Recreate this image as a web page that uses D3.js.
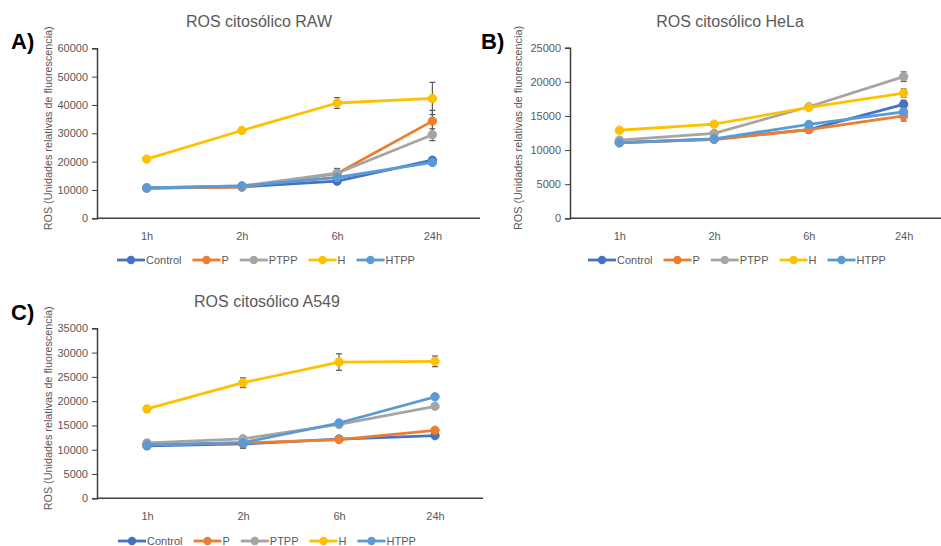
<!DOCTYPE html>
<html lang="es">
<head>
<meta charset="UTF-8">
<title>ROS citosólico</title>
<script src="https://d3js.org/d3.v7.min.js"></script>
<style>
  body { margin: 0; background: #fff; }
  svg { font-family: "Liberation Sans", Arial, sans-serif; }
  .tick-label { font-size: 11px; fill: #595959; }
  .title { font-size: 16px; fill: #595959; }
  .ytitle { font-size: 10.8px; fill: #595959; }
  .panel-label { font-size: 22px; font-weight: bold; fill: #000; }
  .legend-text { font-size: 11px; fill: #595959; }
</style>
</head>
<body>
<svg width="941" height="546"></svg>
<script>
  const categories = ["1h", "2h", "6h", "24h"];
  const seriesNames = ["Control", "P", "PTPP", "H", "HTPP"];
  const colors = ["#4472C4", "#ED7D31", "#A5A5A5", "#FFC000", "#5B9BD5"];

  // Panel A - RAW
  const rawControl = [10700, 11100, 13100, 20500];
  const rawP = [10700, 11000, 15800, 34300];
  const rawPTPP = [10700, 11400, 15900, 29500];
  const rawH = [20900, 31000, 40700, 42300];
  const rawHTPP = [10700, 11400, 14400, 19700];
  const rawErrControl = [300, 300, 500, 600];
  const rawErrP = [300, 300, 600, 3800];
  const rawErrPTPP = [300, 300, 1700, 2100];
  const rawErrH = [400, 400, 1900, 5700];
  const rawErrHTPP = [300, 300, 500, 500];

  // Panel B - HeLa
  const helaControl = [11100, 11600, 13000, 16700];
  const helaP = [11100, 11550, 13000, 15000];
  const helaPTPP = [11450, 12450, 16350, 20750];
  const helaH = [12900, 13800, 16250, 18350];
  const helaHTPP = [11050, 11650, 13750, 15600];
  const helaErrControl = [200, 200, 300, 600];
  const helaErrP = [200, 200, 300, 750];
  const helaErrPTPP = [200, 200, 300, 700];
  const helaErrH = [200, 200, 300, 600];
  const helaErrHTPP = [200, 200, 300, 300];

  // Panel C - A549
  const a549Control = [10800, 11200, 12200, 12900];
  const a549P = [11000, 11400, 12100, 14000];
  const a549PTPP = [11400, 12250, 15200, 18950];
  const a549H = [18400, 23800, 28050, 28200];
  const a549HTPP = [11000, 11450, 15500, 20900];
  const a549ErrControl = [300, 900, 300, 300];
  const a549ErrP = [300, 300, 300, 300];
  const a549ErrPTPP = [300, 300, 300, 300];
  const a549ErrH = [600, 1000, 1700, 1100];
  const a549ErrHTPP = [300, 300, 300, 300];

  const panels = [
    { label: "A)", title: "ROS citosólico RAW", max: 60000, step: 10000,
      values: [rawControl, rawP, rawPTPP, rawH, rawHTPP],
      errors: [rawErrControl, rawErrP, rawErrPTPP, rawErrH, rawErrHTPP],
      x0: 97, x1: 480, yTop: 48.3, yBot: 218.3, legendX: 117, legendY: 260,
      titleX: 259, titleY: 27, labelX: 11, labelY: 49, yTitleX: 52 },
    { label: "B)", title: "ROS citosólico HeLa", max: 25000, step: 5000,
      values: [helaControl, helaP, helaPTPP, helaH, helaHTPP],
      errors: [helaErrControl, helaErrP, helaErrPTPP, helaErrH, helaErrHTPP],
      x0: 570, x1: 951, yTop: 47.7, yBot: 218.3, legendX: 588, legendY: 260,
      titleX: 730, titleY: 27, labelX: 481, labelY: 49, yTitleX: 522 },
    { label: "C)", title: "ROS citosólico A549", max: 35000, step: 5000,
      values: [a549Control, a549P, a549PTPP, a549H, a549HTPP],
      errors: [a549ErrControl, a549ErrP, a549ErrPTPP, a549ErrH, a549ErrHTPP],
      x0: 97, x1: 483, yTop: 328.3, yBot: 498.3, legendX: 118, legendY: 541,
      titleX: 267, titleY: 307, labelX: 11, labelY: 320, yTitleX: 52 }
  ];

  const svg = d3.select("svg");

  panels.forEach(p => {
    const g = svg.append("g");
    const x = d3.scalePoint().domain(categories).range([p.x0 + 2, p.x1]).padding(0.5);
    const y = d3.scaleLinear().domain([0, p.max]).range([p.yBot, p.yTop]);

    // y axis
    const yAxis = d3.axisLeft(y).tickValues(d3.range(0, p.max + 1, p.step))
      .tickFormat(d3.format("d")).tickSize(5).tickPadding(4);
    const ya = g.append("g").attr("transform", `translate(${p.x0},0)`).call(yAxis);
    ya.select(".domain").attr("stroke", "#404040").attr("stroke-width", 1.5);
    ya.selectAll(".tick line").attr("stroke", "#404040");
    ya.selectAll(".tick text").attr("class", "tick-label").attr("font-size", null).attr("font-family", null);

    // x axis
    const xAxis = d3.axisBottom(x).tickSize(0).tickPadding(14);
    const xa = g.append("g").attr("transform", `translate(0,${p.yBot})`).call(xAxis);
    xa.select(".domain").attr("d", `M${p.x0},0H${p.x1}`).attr("stroke", "#404040").attr("stroke-width", 1.5);
    xa.selectAll(".tick text").attr("class", "tick-label").attr("font-size", null).attr("font-family", null);

    // titles
    g.append("text").attr("class", "title").attr("x", p.titleX).attr("y", p.titleY)
      .attr("text-anchor", "middle").text(p.title);
    g.append("text").attr("class", "panel-label").attr("x", p.labelX).attr("y", p.labelY).text(p.label);
    g.append("text").attr("class", "ytitle")
      .attr("transform", `translate(${p.yTitleX},${(p.yTop + p.yBot) / 2 - 5}) rotate(-90)`)
      .attr("text-anchor", "middle").text("ROS (Unidades relativas de fluorescencia)");

    const line = d3.line().x((d, i) => x(categories[i])).y(d => y(d));

    seriesNames.forEach((name, s) => {
      const vals = p.values[s];
      const errs = p.errors[s];
      const sg = g.append("g");
      sg.append("path").datum(vals).attr("d", line).attr("fill", "none")
        .attr("stroke", colors[s]).attr("stroke-width", 2.8).attr("stroke-linejoin", "round");
      // error bars
      const eb = sg.selectAll(".err").data(vals).enter().append("g");
      eb.append("line").attr("x1", (d, i) => x(categories[i])).attr("x2", (d, i) => x(categories[i]))
        .attr("y1", (d, i) => y(d + errs[i])).attr("y2", (d, i) => y(d - errs[i]))
        .attr("stroke", "#595959").attr("stroke-width", 1.2);
      [1, -1].forEach(sign => {
        eb.append("line").attr("x1", (d, i) => x(categories[i]) - 3).attr("x2", (d, i) => x(categories[i]) + 3)
          .attr("y1", (d, i) => y(d + sign * errs[i])).attr("y2", (d, i) => y(d + sign * errs[i]))
          .attr("stroke", "#595959").attr("stroke-width", 1.2);
      });
      sg.selectAll(".pt").data(vals).enter().append("circle")
        .attr("cx", (d, i) => x(categories[i])).attr("cy", d => y(d)).attr("r", 4.2)
        .attr("fill", colors[s]).attr("stroke", colors[s]).attr("stroke-width", 1);
    });

    // legend
    const lg = g.append("g").attr("transform", `translate(${p.legendX},${p.legendY})`);
    let cx = 0;
    seriesNames.forEach((name, s) => {
      const item = lg.append("g").attr("transform", `translate(${cx},0)`);
      item.append("line").attr("x1", 0).attr("x2", 28).attr("y1", 0).attr("y2", 0)
        .attr("stroke", colors[s]).attr("stroke-width", 2.8);
      item.append("circle").attr("cx", 14).attr("cy", 0).attr("r", 4.2).attr("fill", colors[s]);
      const t = item.append("text").attr("class", "legend-text").attr("x", 29).attr("y", 4).text(name);
      cx += 29 + t.node().getComputedTextLength() + 11;
    });
  });
</script>
</body>
</html>
